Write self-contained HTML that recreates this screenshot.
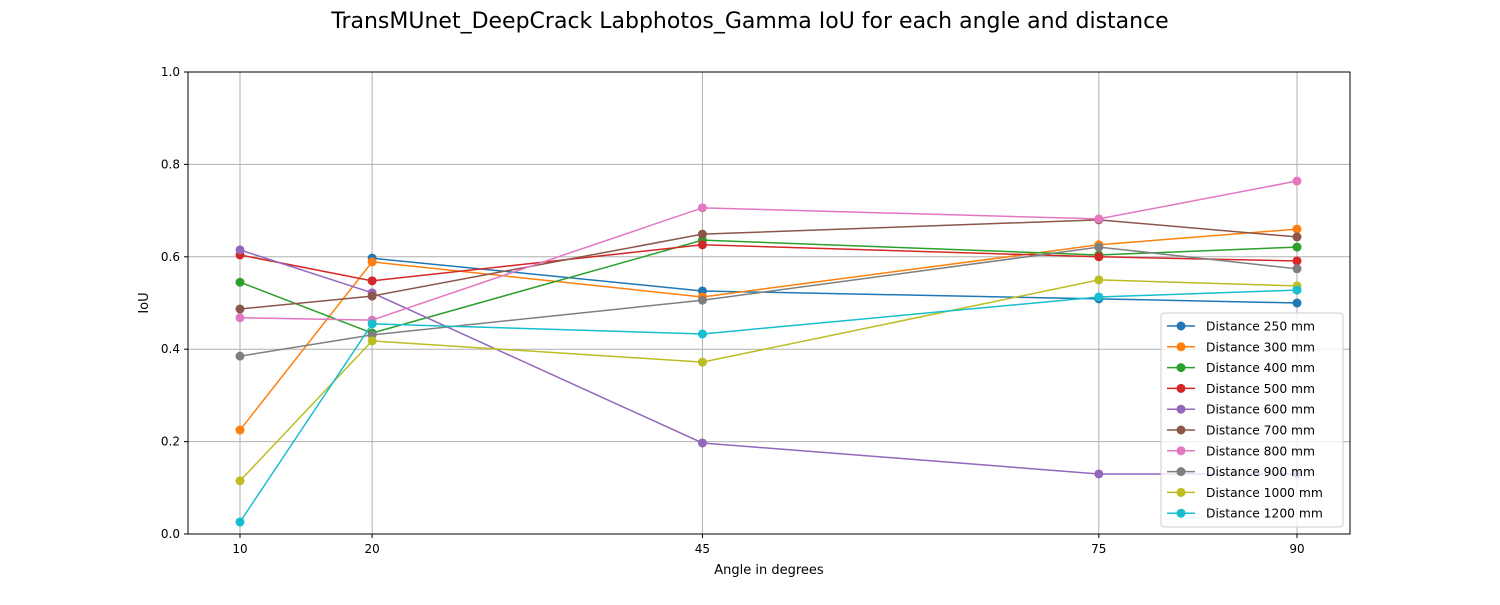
<!DOCTYPE html>
<html><head><meta charset="utf-8"><style>
body{margin:0;background:#fff;font-family:"Liberation Sans","DejaVu Sans",sans-serif}
svg text{font-family:"DejaVu Sans","Liberation Sans",sans-serif}
</style></head><body>
<svg id="chart" width="1500" height="600" xmlns="http://www.w3.org/2000/svg">
<rect width="1500" height="600" fill="#fff"/>
<text x="750" y="28" text-anchor="middle" font-size="22">TransMUnet_DeepCrack Labphotos_Gamma IoU for each angle and distance</text>
<g id="grid"></g><g id="series"></g>
<rect x="188" y="72" width="1162" height="462" fill="none" stroke="#000" stroke-width="1"/>
<g id="ticks"></g>
<text x="769" y="574" text-anchor="middle" font-size="13">Angle in degrees</text>
<text transform="translate(148,303) rotate(-90)" text-anchor="middle" font-size="13">IoU</text>
<g id="legend"></g>
</svg>
<script>
const angles=[10,20,45,75,90];
const yTicks=[0,0.2,0.4,0.6,0.8,1.0];
const labels=["Distance 250 mm","Distance 300 mm","Distance 400 mm","Distance 500 mm","Distance 600 mm","Distance 700 mm","Distance 800 mm","Distance 900 mm","Distance 1000 mm","Distance 1200 mm"];
const colors=["#1f77b4","#ff7f0e","#2ca02c","#d62728","#9467bd","#8c564b","#e377c2","#7f7f7f","#bcbd22","#17becf"];
const s250=[null,0.597,0.526,0.509,0.500];
const s300=[0.225,0.589,0.513,0.626,0.660];
const s400=[0.545,0.435,0.636,0.604,0.621];
const s500=[0.604,0.548,0.626,0.600,0.591];
const s600=[0.615,0.522,0.197,0.130,0.130];
const s700=[0.487,0.515,0.649,0.680,0.643];
const s800=[0.468,0.463,0.706,0.682,0.764];
const s900=[0.385,0.431,0.506,0.621,0.574];
const s1000=[0.115,0.418,0.372,0.550,0.537];
const s1200=[0.026,0.455,0.433,0.513,0.528];
const series=[s250,s300,s400,s500,s600,s700,s800,s900,s1000,s1200];
const NS="http://www.w3.org/2000/svg";
const X=a=>240+(a-10)*13.2125;
const Y=v=>534-v*462;
function mk(t,a,p){const e=document.createElementNS(NS,t);for(const k in a)e.setAttribute(k,a[k]);p.appendChild(e);return e;}
const grid=document.getElementById('grid'),ticks=document.getElementById('ticks');
angles.forEach(a=>{
 const g=mk('line',{x1:X(a),x2:X(a),y1:72,y2:534,stroke:'#b0b0b0','stroke-width':1},grid);
 
 
 mk('line',{x1:X(a),x2:X(a),y1:534,y2:538,stroke:'#000'},ticks);
 const t=mk('text',{x:X(a),y:553,'text-anchor':'middle','font-size':12},ticks);t.textContent=a;
 
 
});
yTicks.forEach(v=>{
 const g=mk('line',{x1:188,x2:1350,y1:Y(v),y2:Y(v),stroke:'#b0b0b0','stroke-width':1},grid);
 
 
 mk('line',{x1:184,x2:188,y1:Y(v),y2:Y(v),stroke:'#000'},ticks);
 const t=mk('text',{x:180,y:Y(v)+4,'text-anchor':'end','font-size':12},ticks);t.textContent=v.toFixed(1);
 
 
});
const sg=document.getElementById('series');
series.forEach((s,i)=>{
 const g=mk('g',{},sg);
 
 
 const pts=[];s.forEach((v,j)=>{if(v!==null)pts.push(X(angles[j])+','+Y(v));});
 mk('polyline',{points:pts.join(' '),fill:'none',stroke:colors[i],'stroke-width':1.5},g);
 s.forEach((v,j)=>{if(v===null)return;
  const c=mk('circle',{cx:X(angles[j]),cy:Y(v),r:4.5,fill:colors[i]},g);
  
  
 });
});
const lg=document.getElementById('legend');
const box=mk('rect',{x:1161,y:313,width:182,height:214,rx:3,fill:'#fff','fill-opacity':0.8,stroke:'#ccc'},lg);


labels.forEach((l,i)=>{
 const y=326+i*20.8;
 const g=mk('g',{},lg);
 
 
 mk('line',{x1:1167,x2:1195,y1:y,y2:y,stroke:colors[i],'stroke-width':1.5},g);
 mk('circle',{cx:1181,cy:y,r:4.5,fill:colors[i]},g);
 const t=mk('text',{x:1206,y:y+4.5,'font-size':12.3},g);t.textContent=l;
});
</script>
</body></html>
